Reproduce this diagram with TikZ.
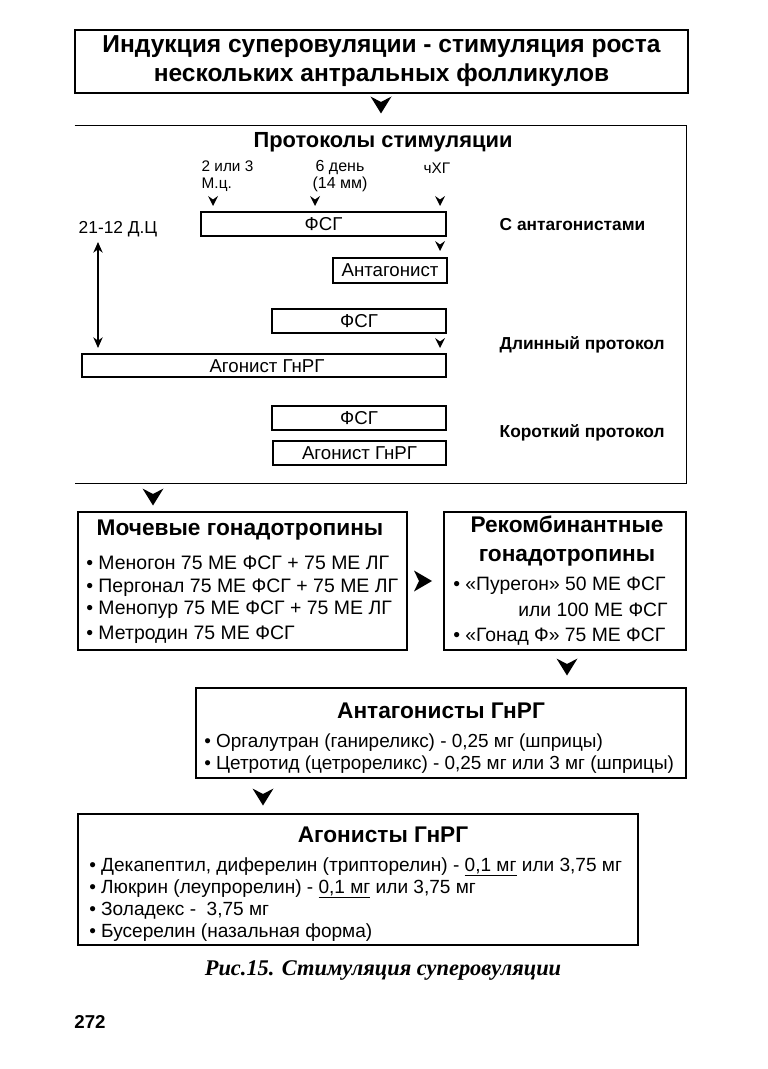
\documentclass[tikz,border=0pt]{standalone}
\usepackage{fontspec}
\setmainfont{Liberation Sans}
\newfontfamily\capfont{Liberation Serif}
\usetikzlibrary{fit,arrows.meta}

\tikzset{
  frame/.style={draw, line width=1.1pt, inner sep=0pt},
  bar/.style={draw, line width=1pt, inner sep=0pt},
  head/.style={font=\bfseries\fontsize{17}{21.75}\selectfont, align=center},
  side/.style={anchor=west, font=\bfseries\fontsize{13}{15}\selectfont},
  lbl/.style={font=\fontsize{14}{16}\selectfont},
  small/.style={font=\fontsize{11.5}{12.75}\selectfont, align=center},
  item/.style={anchor=base west, inner sep=0pt, font=\fontsize{14.2}{16}\selectfont},
  chevd/.pic={\fill (-10.5,-8.5) -- (0,-3) -- (10.5,-8.5) -- (0,8.5) -- cycle;},
  chevr/.pic={\fill (-9,-10.5) -- (-4,0) -- (-9,10.5) -- (9,0) -- cycle;},
  tick/.pic={\fill (-5,-5) -- (0,-1.5) -- (5,-5) -- (0,5) -- cycle;}
}

\begin{document}
\begin{tikzpicture}[x=0.75pt,y=-0.75pt]
  \useasboundingbox (0,0) rectangle (767,1069);

  % top box
  \node[frame, fit={(75,30) (688,93)}] (induct) {};
  \node[head, font=\bfseries\fontsize{18.4}{21.75}\selectfont] (inducttxt) at (induct.center)
    {Индукция суперовуляции - стимуляция роста\\нескольких антральных фолликулов};
  \pic at (381,105) {chevd};

  % protocols
  \node[inner sep=0pt, fit={(75,126) (686,483)}] (prot) {};
  \draw[line width=1.1pt] (prot.north west) -- (prot.north east)
    -- (prot.south east) -- (prot.south west);
  \node[font=\bfseries\fontsize{16.4}{18}\selectfont] (prottitle) at (383,142) {Протоколы стимуляции};

  \node[small, align=left, anchor=west] (day2) at (197,176) {2 или 3\\М.ц.};
  \node[small, font=\fontsize{12}{12.75}\selectfont] (day6) at (340,176) {6 день\\(14 мм)};
  \node[small] (hcg) at (437,168) {чХГ};
  \node[lbl, font=\fontsize{13}{15}\selectfont] (dc) at (118,229) {21-12 Д.Ц};

  \node[bar, fit={(201,212) (446,236)}] (fsgA) {};
  \node[lbl] at (fsgA) {ФСГ};
  \node[bar, fit={(333,258) (447,283)}] (antag) {};
  \node[lbl] at (antag) {Антагонист};
  \node[bar, fit={(272,309) (446,333)}] (fsgB) {};
  \node[lbl] at (fsgB) {ФСГ};
  \node[bar, fit={(82,354) (446,377)}] (agonL) {};
  \node[lbl] at (267,366) {Агонист ГнРГ};
  \node[bar, fit={(272,406) (446,430)}] (fsgC) {};
  \node[lbl] at (fsgC) {ФСГ};
  \node[bar, fit={(273,441) (446,465)}] (agonS) {};
  \node[lbl] at (agonS) {Агонист ГнРГ};

  \foreach \x/\y in {213/201, 315/201, 440/201, 440/246, 440/343}
    \pic at (\x,\y) {tick};

  \coordinate (dtop) at (98,242);
  \coordinate (dbot) at (98,348);
  \draw[line width=0.9pt, {Stealth[length=8pt,width=7pt,inset=2.5pt]}-{Stealth[length=8pt,width=7pt,inset=2.5pt]}] (dtop) -- (dbot);

  \node[side] (withant) at (495,225) {С антагонистами};
  \node[side] (longp) at (495,345) {Длинный протокол};
  \node[side] (shortp) at (495,433) {Короткий протокол};

  \pic at (153,497) {chevd};

  % gonadotropins
  \node[frame, fit={(78,512) (407,650)}] (urine) {};
  \node[head] at (240,530) {Мочевые гонадотропины};
  \node[item, font=\fontsize{14.6}{16}\selectfont] at (86,569) {• Меногон 75 МЕ ФСГ + 75 МЕ ЛГ};
  \node[item, font=\fontsize{14.6}{16}\selectfont] at (86,592) {• Пергонал 75 МЕ ФСГ + 75 МЕ ЛГ};
  \node[item, font=\fontsize{14.6}{16}\selectfont] at (86,614) {• Менопур 75 МЕ ФСГ + 75 МЕ ЛГ};
  \node[item, font=\fontsize{14.6}{16}\selectfont] at (86,639) {• Метродин 75 МЕ ФСГ};

  \pic at (423,581) {chevr};

  \node[frame, fit={(444,512) (686,650)}] (recomb) {};
  \node[head] at (567,541) {Рекомбинантные\\гонадотропины};
  \node[item, font=\fontsize{14.5}{16}\selectfont] at (453,590) {• «Пурегон» 50 МЕ ФСГ};
  \node[item, font=\fontsize{14.5}{16}\selectfont] at (518,616) {или 100 МЕ ФСГ};
  \node[item, font=\fontsize{14.5}{16}\selectfont] at (453,641) {• «Гонад Ф» 75 МЕ ФСГ};

  \pic at (567,667) {chevd};

  % antagonists
  \node[frame, fit={(196,688) (686,778)}] (antbox) {};
  \node[head] at (441,711) {Антагонисты ГнРГ};
  \node[item] at (204,747) {• Оргалутран (ганиреликс) - 0,25 мг (шприцы)};
  \node[item] at (204,769) {• Цетротид (цетрореликс) - 0,25 мг или 3 мг (шприцы)};

  \pic at (263,797) {chevd};

  % agonists
  \node[frame, fit={(78,814) (638,945)}] (agonbox) {};
  \node[head] at (383,835) {Агонисты ГнРГ};
  \node[item, font=\fontsize{14.3}{16}\selectfont] at (89,871) {• Декапептил, диферелин (трипторелин) - \underline{0,1 мг} или 3,75 мг};
  \node[item, font=\fontsize{14.3}{16}\selectfont] at (89,893) {• Люкрин (леупрорелин) - \underline{0,1 мг} или 3,75 мг};
  \node[item, font=\fontsize{14.3}{16}\selectfont] at (89,915) {• Золадекс -~ 3,75 мг};
  \node[item, font=\fontsize{14.3}{16}\selectfont] at (89,937) {• Бусерелин (назальная форма)};

  \node[font=\capfont\bfseries\itshape\fontsize{16.8}{18}\selectfont] (caption) at (383,970) {Рис.15. Стимуляция суперовуляции};
  \node[font=\bfseries\fontsize{14}{16}\selectfont] (page) at (90,1022) {272};
\end{tikzpicture}
\end{document}
